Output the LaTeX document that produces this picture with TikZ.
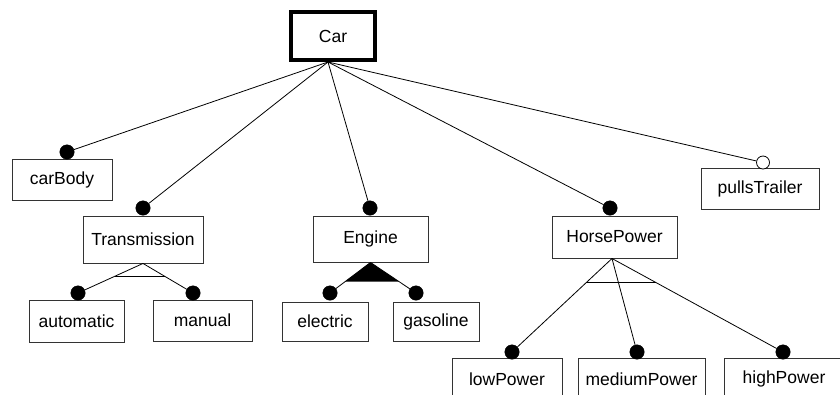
\documentclass[tikz,border=0pt]{standalone}
\usepackage{fontspec}
\setmainfont{Liberation Sans}
\usetikzlibrary{calc}
\begin{document}
\begin{tikzpicture}[x=1pt,y=-1pt,
  feat/.style={draw=black!80,line width=0.9pt,fill=white,inner sep=0pt,font=\fontsize{17.5}{20}\selectfont},
  knob/.style={circle,fill=black,draw=black,inner sep=0pt,minimum size=14.5pt},
  oknob/.style={circle,fill=white,draw=black,line width=0.8pt,inner sep=0pt,minimum size=13pt},
  link/.style={draw=black,line width=0.8pt}]
\useasboundingbox (0,0) rectangle (840,394);
\clip (0,0) rectangle (840,394);
% nodes
\node[feat,draw=black,line width=4pt,minimum width=84pt,minimum height=48pt] (car) at (333,36) {Car};
\node[feat,minimum width=100pt,minimum height=41pt] (body) at (62,179.5) {carBody};
\node[feat,minimum width=120pt,minimum height=47pt] (trans) at (143,239.5) {Transmission};
\node[feat,minimum width=115pt,minimum height=46pt] (eng) at (370.5,239) {Engine};
\node[feat,minimum width=125pt,minimum height=42pt] (hp) at (614.5,237) {HorsePower};
\node[feat,minimum width=118pt,minimum height=41pt] (pt) at (760,188.5) {pullsTrailer};
\node[feat,minimum width=95pt,minimum height=42pt] (auto) at (76.5,321) {automatic};
\node[feat,minimum width=99pt,minimum height=41pt] (man) at (202.5,320.5) {manual};
\node[feat,minimum width=86pt,minimum height=39pt] (elec) at (325,321.5) {electric};
\node[feat,minimum width=86pt,minimum height=39pt] (gas) at (436,321.5) {gasoline};
\node[feat,minimum width=110pt,minimum height=42pt] (low) at (507,379) {lowPower};
\node[feat,minimum width=127pt,minimum height=42pt] (med) at (641.5,379) {mediumPower};
\node[feat,minimum width=120pt,minimum height=42pt] (high) at (784,379) {highPower};
% knobs
\node[knob] (kbody) at (67,152) {};
\node[knob] (ktrans) at (143,208) {};
\node[knob] (keng) at (370,208) {};
\node[knob] (khp) at (610,208) {};
\node[oknob] (kpt) at (763,162.5) {};
\node[knob] (kauto) at (78,293) {};
\node[knob] (kman) at (193,293) {};
\node[knob] (kelec) at (330,293) {};
\node[knob] (kgas) at (416,293) {};
\node[knob] (klow) at (512,352) {};
\node[knob] (kmed) at (637,352) {};
\node[knob] (khigh) at (783,352) {};
% apexes
\coordinate (carb) at (328,62);
\coordinate (tb) at (trans.south);
\coordinate (eb) at (eng.south);
\coordinate (hb) at (612,258.5);
% connectors from Car
\draw[link] (carb) -- (kbody);
\draw[link] (carb) -- (ktrans);
\draw[link] (carb) -- (keng);
\draw[link] (carb) -- (khp);
\draw[link] (carb) -- (kpt);
% Transmission alternative
\draw[link] (tb) -- (kauto);
\draw[link] (tb) -- (kman);
\draw[link] ($(tb)!0.433!(kauto.center)$) -- ($(tb)!0.433!(kman.center)$);
% Engine or-group
\fill[black] (eb) -- ($(eb)!0.63!(kelec.center)$) -- ($(eb)!0.63!(kgas.center)$) -- cycle;
\draw[link] (eb) -- (kelec);
\draw[link] (eb) -- (kgas);
% HorsePower alternative
\draw[link] (hb) -- (klow);
\draw[link] (hb) -- (kmed);
\draw[link] (hb) -- (khigh);
\draw[link] ($(hb)!0.26!(klow.center)$) -- ($(hb)!0.26!(khigh.center)$);
\end{tikzpicture}
\end{document}
